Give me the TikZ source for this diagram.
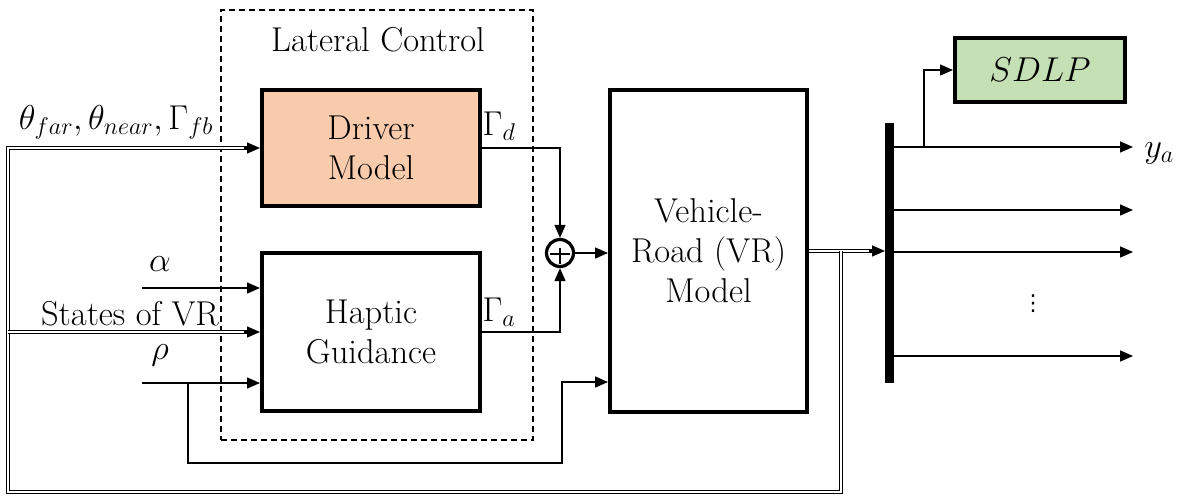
\RequirePackage{fix-cm}
\documentclass[tikz,border=0pt]{standalone}
\usepackage{fontspec}
\newfontfamily\dejavu{DejaVu Sans}
\usetikzlibrary{arrows.meta,calc}
\definecolor{peach}{HTML}{F8CBAD}
\definecolor{lgreen}{HTML}{C5E0B4}
\begin{document}
\begin{tikzpicture}[x=1pt,y=-1pt,
  txt/.style={font=\fontsize{34.5}{40}\selectfont, inner sep=0pt},
  blk/.style={draw, line width=4pt, inner sep=0pt, align=center, font=\fontsize{34.5}{40}\selectfont},
  ln/.style={line width=1.5pt},
  arr/.style={ln, -{Triangle[length=13pt,width=11pt]}},
  dbl/.style={line width=1.1pt, double, double distance=2.6pt},
  dashbox/.style={draw, line width=1.4pt, dash pattern=on 6pt off 4pt, inner sep=0pt},
]
\useasboundingbox (0,0) rectangle (1185,498);
% group frame
\node[dashbox, minimum width=312pt, minimum height=430pt] (lc) at (377,225) {};
\node[txt] (lct) at (378,40) {Lateral Control};
% blocks
\node[blk, fill=peach, minimum width=218pt, minimum height=116pt] (dm) at (371,148) {Driver\\Model};
\node[blk, minimum width=218pt, minimum height=158pt] (hg) at (371,332) {Haptic\\Guidance};
\node[blk, minimum width=197pt, minimum height=322pt] (vr) at (708.5,251) {Vehicle-\\Road (VR)\\Model};
\node[blk, fill=lgreen, minimum width=170pt, minimum height=64pt] (sdlp) at (1040,70) {$SDLP$};
\node[draw, fill=black, line width=0pt, minimum width=8pt, minimum height=259pt, inner sep=0pt] (bus) at (889,252.5) {};
\node[draw, circle, line width=3.2pt, minimum size=27pt, inner sep=0pt] (sum) at (560,253) {};
\draw[line width=1.2pt] ($(sum.center)+(-10,1)$) -- ++(20,0);
\draw[line width=1.2pt] ($(sum.center)+(0,-5)$) -- ++(0,16);
% labels
\node[txt] (lth) at (116,122) {$\theta_{far},\theta_{near},\Gamma_{fb}$};
\node[txt] (lal) at (160,264) {$\alpha$};
\node[txt] (lsv) at (130,314) {States of VR};
\node[txt] (lrh) at (160,355) {$\rho$};
\node[txt] (lgd) at (499,126) {$\Gamma_d$};
\node[txt] (lga) at (499,312) {$\Gamma_a$};
\node[txt] (lya) at (1159,153) {$y_a$};
\node[font=\dejavu\fontsize{22}{24}\selectfont, inner sep=0pt] (dots) at (1033,304) {⋮};
% coordinates
\coordinate (fb) at (841,251);
\coordinate (c1) at (841,492);
\coordinate (c2) at (8,492);
\coordinate (c3) at (8,148);
\coordinate (sv) at (8,332);
\coordinate (al) at (142,288);
\coordinate (rh) at (142,383);
\coordinate (rb) at (188,383);
\coordinate (r2) at (562,463);
\coordinate (r3) at (562,382);
\coordinate (br) at (924,147);
% sum connections
\draw[arr] (dm.east) -| (sum.north);
\draw[arr] (hg.east) -| (sum.south);
\draw[arr] (sum.east) -- (sum.east -| vr.west);
% inputs
\draw[arr] (al) -- (al -| hg.west);
\draw[arr] (rh) -- (rh -| hg.west);
\draw[arr] (rb) |- (r2) -- (r3) -- (r3 -| vr.west);
% VR output and feedback (double lines)
\draw[dbl] (vr.east) -- ($(vr.east -| bus.west)+(-10,0)$);
\draw[arr] ($(vr.east -| bus.west)+(-16,0)$) -- (vr.east -| bus.west);
\draw[dbl] (fb) -- (c1) -- (c2) -- (c3) -- ($(dm.west)+(-10,0)$);
\draw[dbl] (sv) -- ($(hg.west)+(-10,0)$);
\draw[arr] ($(dm.west)+(-16,0)$) -- (dm.west);
\draw[arr] ($(hg.west)+(-16,0)$) -- (hg.west);
% outputs
\foreach \yy/\nm in {147/o1,210/o2,252/o3,356/o4}{
  \coordinate (\nm) at (1133,\yy);
  \draw[arr] (bus.east |- \nm) -- (\nm);
}
\draw[arr] (br) |- (sdlp.west);
\end{tikzpicture}
\end{document}
